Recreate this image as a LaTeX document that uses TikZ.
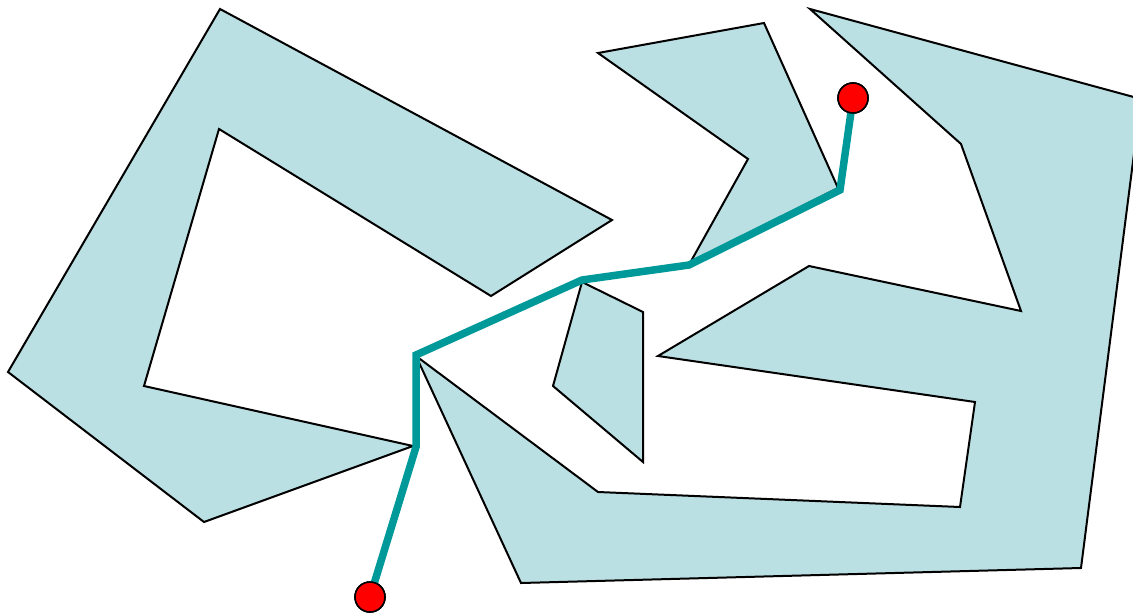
\documentclass[tikz,border=0pt]{standalone}
\definecolor{polyfill}{RGB}{187,224,227}
\definecolor{pathteal}{RGB}{0,153,153}
\tikzset{
  obstacle/.style={fill=polyfill, draw=black, line width=2pt, line join=miter},
  route/.style={draw=pathteal, line width=7.5pt, line join=miter},
  endpt/.style={circle, fill=red, draw=black, line width=1.6pt, minimum size=30pt, inner sep=0pt}
}
\begin{document}
\begin{tikzpicture}[x=1pt,y=-1pt]
\useasboundingbox (0,0) rectangle (1133,616);
\begin{scope}
\clip (0,0) rectangle (1133,616);
% left C-shaped obstacle
\draw[obstacle] (220,9) -- (612,220) -- (491,296) -- (219,129) -- (144,386) -- (413,446) -- (204,522) -- (8,372) -- cycle;
% top middle obstacle
\draw[obstacle] (598,53) -- (764,23) -- (838,188) -- (690,263) -- (748,159) -- cycle;
% small quad
\draw[obstacle] (582,282) -- (643,312) -- (643,462) -- (553,386) -- cycle;
% big right obstacle
\draw[obstacle] (810,9) -- (1141,99) -- (1081,568) -- (521,583) -- (416,356) -- (598,492) -- (960,507) -- (975,402) -- (658,356) -- (809,266) -- (1021,311) -- (961,144) -- cycle;
\end{scope}
% route
\coordinate (w1) at (416,447);
\coordinate (w2) at (416,355);
\coordinate (w3) at (582,280);
\coordinate (w4) at (689,265);
\coordinate (w5) at (840,190);
\node[endpt] (start) at (370,597) {};
\node[endpt] (goal) at (853,98) {};
\draw[route] (start.center) -- (w1) -- (w2) -- (w3) -- (w4) -- (w5) -- (goal.center);
\node[endpt] at (start.center) {};
\node[endpt] at (goal.center) {};
\end{tikzpicture}
\end{document}
